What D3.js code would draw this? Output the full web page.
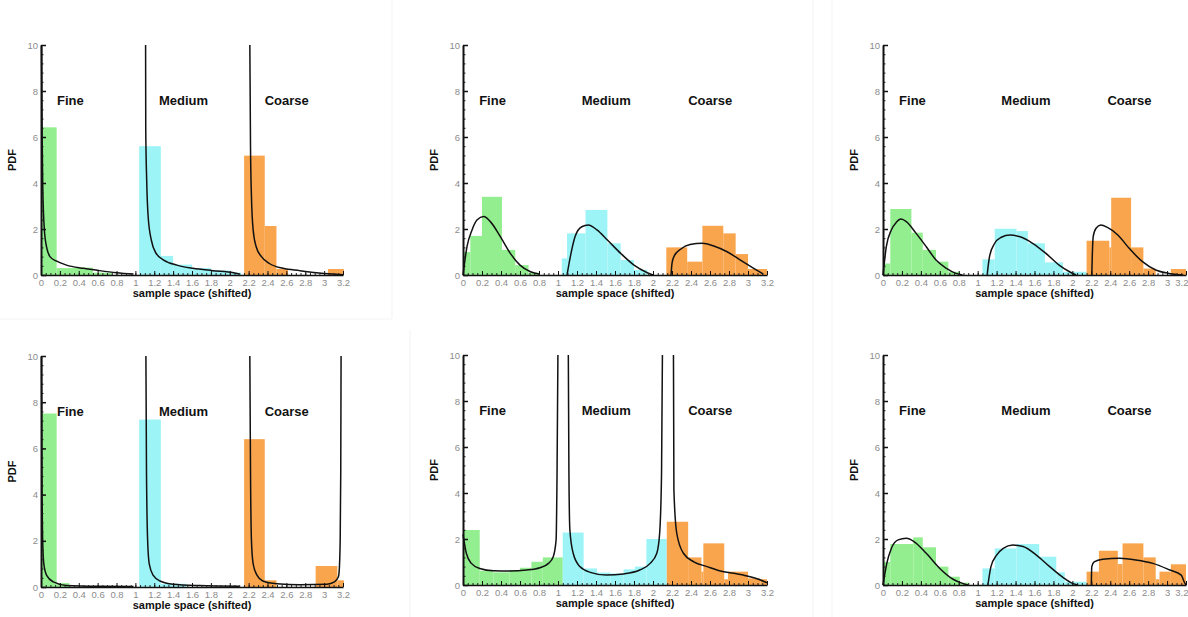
<!DOCTYPE html>
<html><head><meta charset="utf-8">
<script src="https://cdn.jsdelivr.net/npm/d3@7"></script>
<style>
body{margin:0;background:#fff;}
svg{display:block;font-family:"Liberation Sans",Arial,sans-serif;}
</style></head>
<body><svg id="c" width="1188" height="617"></svg>
<script>
// ---- data ----
const groupLabels = ["Fine", "Medium", "Coarse"];
const groupLabelX = [0.17, 1.25, 2.37];
const groupLabelY = 7.6;
const yTickValues = [0, 2, 4, 6, 8, 10];
const xTickValues = [0,0.2,0.4,0.6,0.8,1,1.2,1.4,1.6,1.8,2,2.2,2.4,2.6,2.8,3,3.2];
const xTickLabels = ["0","0.2","0.4","0.6","0.8","1","1.2","1.4","1.6","1.8","2","2.2","2.4","2.6","2.8","3","3.2"];

// bars: [x0, x1, pdf, group]
const barsP1 = [
  [0,0.166,6.42,0],[0.166,0.36,0.30,0],[0.36,0.55,0.32,0],[0.55,0.75,0.10,0],
  [1.04,1.27,5.6,1],[1.27,1.40,0.83,1],[1.40,1.60,0.45,1],[1.60,1.80,0.30,1],[1.80,2.00,0.20,1],[2.00,2.12,0.10,1],
  [2.152,2.371,5.19,2],[2.371,2.495,2.13,2],[2.495,2.618,0.26,2],[3.04,3.21,0.26,2]
];
const barsP2 = [
  [0,0.077,1.0,0],[0.077,0.2,1.7,0],[0.2,0.41,3.4,0],[0.41,0.55,1.09,0],[0.55,0.69,0.43,0],[0.69,0.81,0.1,0],
  [1.04,1.095,0.72,1],[1.095,1.29,1.81,1],[1.29,1.52,2.83,1],[1.52,1.66,1.38,1],[1.66,1.80,0.65,1],[1.80,1.94,0.22,1],
  [2.14,2.36,1.2,2],[2.36,2.52,0.58,2],[2.52,2.74,2.14,2],[2.74,2.87,1.81,2],[2.87,3.0,0.91,2],[3.0,3.2,0.26,2]
];
const barsP3 = [
  [0,0.077,0.5,0],[0.077,0.30,2.87,0],[0.30,0.42,1.84,0],[0.42,0.56,1.09,0],[0.56,0.69,0.58,0],[0.69,0.81,0.14,0],
  [1.05,1.18,0.68,1],[1.18,1.41,2.01,1],[1.41,1.53,1.91,1],[1.53,1.71,1.38,1],[1.71,1.90,0.55,1],[1.90,2.15,0.14,1],
  [2.15,2.39,1.49,2],[2.39,2.41,1.2,2],[2.41,2.62,3.36,2],[2.62,2.75,1.2,2],[2.75,2.88,0.28,2],[3.04,3.2,0.26,2]
];
const barsP4 = [
  [0,0.166,7.51,0],[0.166,0.30,0.17,0],
  [1.04,1.27,7.25,1],[1.27,1.54,0.14,1],
  [2.152,2.371,6.4,2],[2.371,2.495,0.29,2],[2.91,3.14,0.91,2],[3.14,3.21,0.29,2]
];
const barsP5 = [
  [0,0.176,2.39,0],[0.176,0.32,0.62,0],[0.32,0.49,0.55,0],[0.49,0.60,0.65,0],[0.60,0.72,0.75,0],[0.72,0.84,1.01,0],[0.84,1.05,1.2,0],
  [1.05,1.27,2.28,1],[1.27,1.41,0.72,1],[1.41,1.55,0.54,1],[1.55,1.69,0.5,1],[1.69,1.81,0.68,1],[1.81,1.93,0.8,1],[1.93,2.145,2.0,1],
  [2.145,2.37,2.75,2],[2.37,2.51,1.2,2],[2.51,2.53,0.58,2],[2.53,2.75,1.81,2],[2.75,2.79,0.25,2],[2.79,3.0,0.58,2],[3.0,3.13,0.29,2],[3.13,3.2,0.25,2]
];
const barsP6 = [
  [0,0.077,1.0,0],[0.077,0.32,1.78,0],[0.32,0.42,2.07,0],[0.42,0.56,1.64,0],[0.56,0.69,0.8,0],[0.69,0.81,0.36,0],[0.81,0.91,0.1,0],
  [1.05,1.18,0.72,1],[1.18,1.41,1.59,1],[1.41,1.65,1.78,1],[1.65,1.83,1.23,1],[1.83,1.92,0.55,1],[1.92,2.15,0.14,1],
  [2.15,2.28,0.58,2],[2.28,2.48,1.49,2],[2.48,2.53,0.91,2],[2.53,2.75,1.81,2],[2.75,2.88,1.2,2],[2.88,2.92,0.25,2],[2.92,3.04,0.58,2],[3.04,3.2,0.9,2]
];

// fitted PDF curves: [fine, medium, coarse], points [x, pdf]
const curvesP1 = [
  [[0.005,10.5],[0.012,6],[0.018,4],[0.035,2],[0.06,1.2],[0.095,0.8],[0.166,0.6],[0.27,0.43],[0.45,0.29],[0.62,0.19],[0.8,0.1],[0.98,0.04]],
  [[1.108,10.5],[1.11,6.3],[1.12,4.1],[1.136,2.5],[1.17,1.5],[1.22,0.94],[1.3,0.65],[1.44,0.43],[1.61,0.29],[1.82,0.19],[2.04,0.1],[2.1,0.04]],
  [[2.212,10.5],[2.22,5.6],[2.23,3.4],[2.248,1.96],[2.28,1.23],[2.336,0.8],[2.42,0.5],[2.565,0.29],[2.74,0.19],[2.92,0.1],[3.09,0.04],[3.2,0.01]]
];
const curvesP2 = [
  [[0,0],[0.042,1.23],[0.095,1.96],[0.147,2.39],[0.218,2.54],[0.288,2.32],[0.393,1.67],[0.498,0.94],[0.6,0.43],[0.71,0.14],[0.81,0.03]],
  [[1.095,0],[1.13,0.8],[1.18,1.67],[1.25,2.1],[1.32,2.17],[1.41,1.96],[1.52,1.52],[1.66,0.94],[1.8,0.43],[1.94,0.1],[2.0,0]],
  [[2.19,0],[2.2,0.5],[2.22,0.8],[2.29,1.12],[2.39,1.33],[2.52,1.38],[2.64,1.26],[2.78,1.01],[2.92,0.65],[3.06,0.29],[3.16,0.04]]
];
const curvesP3 = [
  [[0,0],[0.035,1.23],[0.088,1.96],[0.14,2.29],[0.19,2.43],[0.246,2.32],[0.35,1.81],[0.457,1.23],[0.56,0.65],[0.67,0.29],[0.77,0.07],[0.84,0]],
  [[1.1,0],[1.125,0.8],[1.18,1.38],[1.25,1.64],[1.34,1.74],[1.44,1.67],[1.58,1.38],[1.72,0.94],[1.86,0.43],[1.97,0.14],[2.04,0]],
  [[2.205,0],[2.21,0.8],[2.22,1.67],[2.25,2.03],[2.3,2.17],[2.37,2.07],[2.48,1.74],[2.6,1.16],[2.74,0.58],[2.88,0.22],[3.02,0.07],[3.17,0]]
];
const curvesP4 = [
  [[0.005,10.5],[0.01,4.9],[0.018,2.0],[0.03,1.0],[0.06,0.5],[0.13,0.22],[0.27,0.07],[0.62,0.03],[0.98,0.02]],
  [[1.111,10.5],[1.118,4.9],[1.13,2.0],[1.147,1.0],[1.19,0.5],[1.26,0.26],[1.4,0.12],[1.68,0.06],[2.1,0.03]],
  [[2.212,10.5],[2.22,4.9],[2.23,2.0],[2.248,1.0],[2.29,0.5],[2.35,0.26],[2.5,0.14],[2.74,0.1],[3.03,0.12],[3.11,0.22],[3.15,0.43],[3.16,0.72],[3.17,2.0],[3.176,4.9],[3.18,10.5]]
];
const curvesP5 = [
  [[0.0,2.2],[0.035,1.38],[0.088,0.94],[0.176,0.72],[0.32,0.62],[0.49,0.61],[0.67,0.65],[0.81,0.75],[0.9,0.94],[0.95,1.23],[0.98,1.96],[0.99,4.86],[1.0,10.5]],
  [[1.108,10.5],[1.115,4.86],[1.125,2.39],[1.16,1.38],[1.23,0.8],[1.34,0.55],[1.51,0.43],[1.69,0.48],[1.86,0.65],[1.97,0.94],[2.04,1.38],[2.07,2.25],[2.09,4.86],[2.1,10.5]],
  [[2.215,10.5],[2.22,4.13],[2.25,2.25],[2.32,1.38],[2.43,1.01],[2.57,0.8],[2.71,0.61],[2.85,0.51],[2.99,0.39],[3.13,0.22],[3.2,0.1]]
];
const curvesP6 = [
  [[0,0],[0.04,0.94],[0.088,1.59],[0.16,1.96],[0.246,2.03],[0.33,1.88],[0.457,1.38],[0.6,0.72],[0.74,0.25],[0.84,0.07],[0.9,0]],
  [[1.108,0],[1.14,0.8],[1.2,1.3],[1.27,1.59],[1.37,1.74],[1.48,1.67],[1.62,1.3],[1.76,0.8],[1.9,0.33],[2.0,0.07],[2.06,0]],
  [[2.2,0],[2.205,0.8],[2.23,1.01],[2.32,1.12],[2.5,1.16],[2.67,1.09],[2.85,0.94],[3.03,0.65],[3.15,0.43],[3.18,0.14],[3.2,0]]
];

const allBars = [barsP1, barsP2, barsP3, barsP4, barsP5, barsP6];
const allCurves = [curvesP1, curvesP2, curvesP3, curvesP4, curvesP5, curvesP6];
const groupColors = ["#93ee8f", "#9df4f7", "#f8a54e"];

// ---- layout ----
const layout = [
  {l:41, r:343, t:45, b:275},
  {l:463, r:767, t:45, b:275},
  {l:883, r:1186, t:45, b:275},
  {l:41, r:343, t:356, b:587},
  {l:463, r:767, t:355, b:585},
  {l:883, r:1186, t:355, b:585}
];
const W = 1188;

const svg = d3.select("#c");
const defs = svg.append("defs");

// faint screenshot frames
const frames = [[392,0,392,318],[0,319,392,319],[813,0,813,617],[832,0,832,617],[410,330,410,617]];
svg.append("g").selectAll("line").data(frames).join("line")
  .attr("x1", d => d[0]).attr("y1", d => d[1]).attr("x2", d => d[2]).attr("y2", d => d[3])
  .attr("stroke", "#f3f3f3").attr("stroke-width", 1);

layout.forEach((L, i) => {
  const x = d3.scaleLinear().domain([0, 3.2]).range([L.l, L.r]);
  const y = d3.scaleLinear().domain([0, 10]).range([L.b, L.t]);
  const g = svg.append("g");

  defs.append("clipPath").attr("id", "clip" + i)
    .append("rect").attr("x", L.l - 2).attr("y", L.t).attr("width", L.r - L.l + 6).attr("height", L.b - L.t + 2);

  // bars
  g.append("g").selectAll("rect").data(allBars[i]).join("rect")
    .attr("x", d => x(d[0]))
    .attr("width", d => x(d[1]) - x(d[0]))
    .attr("y", d => y(d[2]))
    .attr("height", d => y(0) - y(d[2]))
    .attr("fill", d => groupColors[d[3]]);

  // curves
  const line = d3.line().x(d => x(d[0])).y(d => y(d[1])).curve(d3.curveMonotoneX);
  g.append("g").attr("clip-path", "url(#clip" + i + ")")
    .selectAll("path").data(allCurves[i]).join("path")
    .attr("d", line).attr("fill", "none").attr("stroke", "#111").attr("stroke-width", 1.5);

  // x axis
  const xMinor = d3.range(0, 3.2001, 0.05);
  g.append("g").attr("transform", `translate(0,${L.b})`)
    .call(d3.axisBottom(x).tickValues(xMinor).tickSize(-2).tickFormat("").tickSizeOuter(0))
    .call(s => s.select(".domain").remove())
    .call(s => s.selectAll("line").attr("stroke", "#222"));
  const xa = g.append("g").attr("transform", `translate(0,${L.b})`)
    .call(d3.axisBottom(x).tickValues(xTickValues).tickSize(-4).tickSizeOuter(0).tickPadding(4)
      .tickFormat((d, k) => xTickLabels[k]));
  xa.select(".domain").attr("stroke", "#111").attr("stroke-width", 1.5);
  xa.selectAll("line").attr("stroke", "#111");
  xa.selectAll("text").attr("fill", "#8c8c8c").attr("font-size", "9.5px")
    .attr("font-family", "'Liberation Sans',Arial,sans-serif");
  // keep the last label inside the window
  xa.selectAll("text").filter(function(d) { return x(d) + 8 > W; })
    .attr("text-anchor", "end").attr("x", 2);

  // y axis
  const yMinor = d3.range(0, 10.001, 0.4);
  g.append("g").attr("transform", `translate(${L.l},0)`)
    .call(d3.axisLeft(y).tickValues(yMinor).tickSize(-2.5).tickFormat("").tickSizeOuter(0))
    .call(s => s.select(".domain").remove())
    .call(s => s.selectAll("line").attr("stroke", "#222"));
  const ya = g.append("g").attr("transform", `translate(${L.l},0)`)
    .call(d3.axisLeft(y).tickValues(yTickValues).tickSize(-5).tickSizeOuter(0).tickPadding(3));
  ya.select(".domain").attr("stroke", "#111").attr("stroke-width", 2);
  ya.selectAll("line").attr("stroke", "#111").attr("stroke-width", 1.5);
  ya.selectAll("text").attr("fill", "#8c8c8c").attr("font-size", "9.5px")
    .attr("font-family", "'Liberation Sans',Arial,sans-serif");

  // group labels
  g.selectAll("text.grp").data(groupLabels).join("text").attr("class", "grp")
    .attr("x", (d, k) => x(groupLabelX[k]))
    .attr("y", y(groupLabelY))
    .attr("dy", "0.35em")
    .attr("font-size", "13px").attr("font-weight", "bold").attr("fill", "#111")
    .text(d => d);

  // axis titles
  g.append("text").attr("x", (L.l + L.r) / 2).attr("y", L.b + 22)
    .attr("text-anchor", "middle").attr("font-size", "11px").attr("font-weight", "bold").attr("fill", "#111")
    .text("sample space (shifted)");
  g.append("text")
    .attr("transform", `translate(${L.l - 25},${(L.t + L.b) / 2}) rotate(-90)`)
    .attr("text-anchor", "middle").attr("font-size", "11px").attr("font-weight", "bold").attr("fill", "#111")
    .text("PDF");
});
</script></body></html>
